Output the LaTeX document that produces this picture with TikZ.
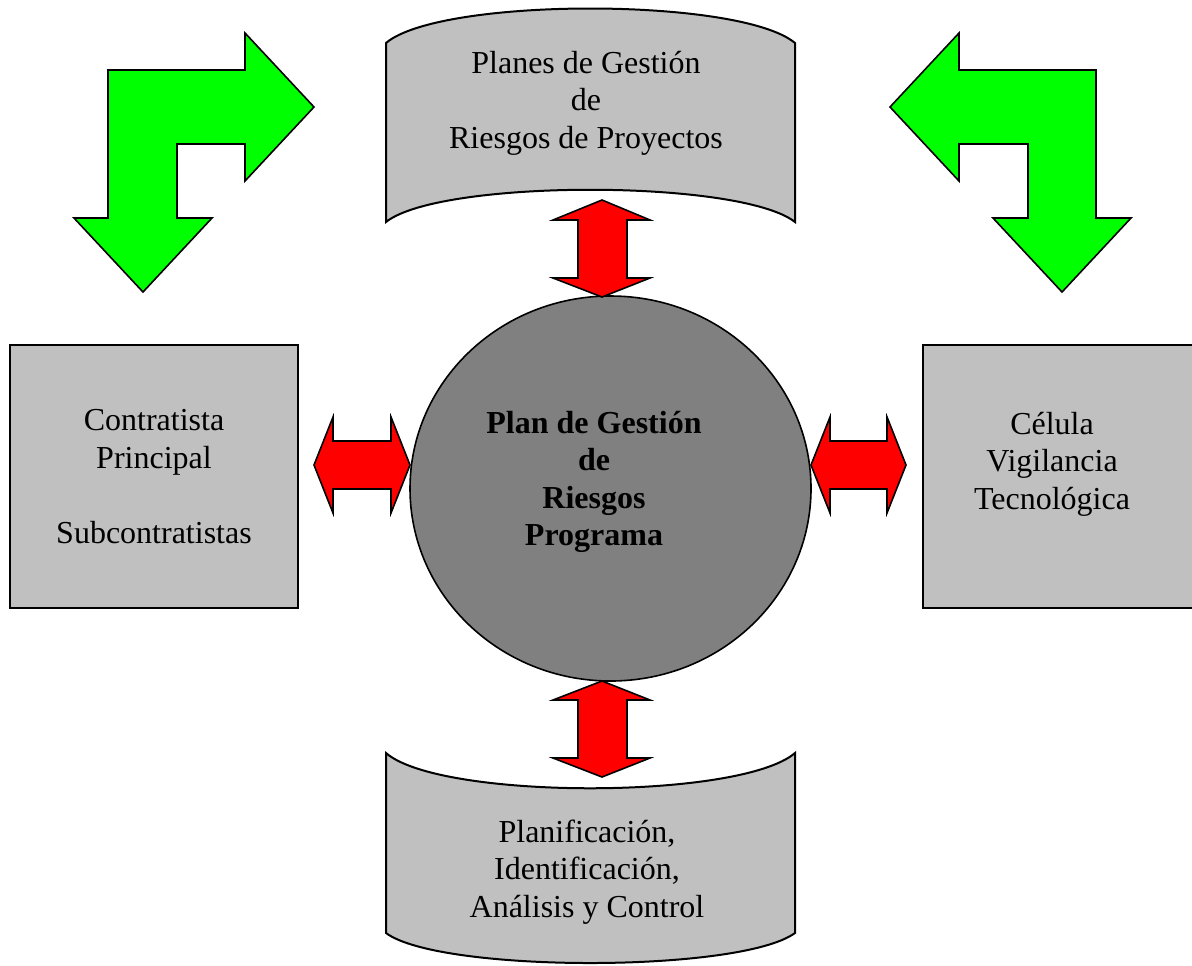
\documentclass[tikz,border=0pt]{standalone}
\usepackage{fontspec}
\setmainfont{Liberation Serif}
\usepackage{tikz}
\usetikzlibrary{positioning,shapes.geometric}
\definecolor{grisclaro}{HTML}{C0C0C0}
\definecolor{grisoscuro}{HTML}{808080}
\definecolor{verde}{HTML}{00FF00}
\definecolor{rojo}{HTML}{FF0000}
\tikzset{caja/.style={draw=black,fill=grisclaro,line width=1pt,rectangle,inner sep=0pt},
  texto/.style={align=center,inner sep=0pt,font=\fontsize{16}{18.7}\selectfont},
  flechaverde/.style={draw=black,fill=verde,line width=0.8pt,line join=miter},
  flecharoja/.style={draw=black,fill=rojo,line width=0.8pt,line join=miter}}

\begin{document}
\begin{tikzpicture}[x=0.5pt, y=-0.5pt]
        \useasboundingbox (0,0) rectangle (1192,965);
        \clip (0,0) rectangle (1192,965);
        % bandas superior e inferior
        \draw[caja] (386,43) .. controls (440,-3) and (740,-3) .. (795,43) -- (795,222)
            .. controls (740,179) and (440,179) .. (386,222) -- cycle;
        \draw[caja] (386,753) .. controls (440,800) and (740,800) .. (795,753) -- (795,933)
            .. controls (740,973) and (440,973) .. (386,933) -- cycle;
        \node[texto] (planes) at (586,103) {Planes de Gestión\\de\\Riesgos de Proyectos};
        \node[texto] (planif) at (587,872) {Planificación,\\Identificación,\\Análisis y Control};
        % cajas laterales
        \node[caja,minimum width=144pt,minimum height=131.5pt,texto] (contratista) at (154,476.5)
            {Contratista\\Principal\\\mbox{}\\Subcontratistas};
        \node[caja,minimum width=150pt,minimum height=131.5pt,anchor=west] (celulaCaja) at (922,476.5) {};
        \node[texto] (celula) at (1052,464) {Célula\\Vigilancia\\Tecnológica};
        % circulo central
        \node[ellipse,draw=black,fill=grisoscuro,line width=0.8pt,minimum width=200.5pt,
            minimum height=192.5pt,inner sep=0pt] (programa) at (610.5,488.5) {};
        \node[texto,font=\fontsize{16}{18.7}\selectfont\bfseries] (programaTxt) at (594,482)
            {Plan de Gestión\\de\\Riesgos\\Programa};
        % flechas rojas
        \filldraw[flecharoja] (602,200) -- (650,220) -- (627,220) -- (627,278) -- (650,278)
            -- (602,297) -- (553,278) -- (578,278) -- (578,220) -- (553,220) -- cycle;
        \filldraw[flecharoja] (602,681) -- (650,700) -- (627,700) -- (627,758) -- (650,758)
            -- (602,777) -- (553,758) -- (578,758) -- (578,700) -- (553,700) -- cycle;
        \filldraw[flecharoja] (314,465) -- (333,417) -- (333,441) -- (391,441) -- (391,417)
            -- (410,465) -- (391,513) -- (391,489) -- (333,489) -- (333,513) -- cycle;
        \filldraw[flecharoja] (811,465) -- (830,417) -- (830,441) -- (887,441) -- (887,417)
            -- (906,465) -- (887,513) -- (887,489) -- (830,489) -- (830,513) -- cycle;
        % flechas verdes
        \filldraw[flechaverde] (108,70) -- (245,70) -- (245,33) -- (314,107) -- (245,181)
            -- (245,144) -- (177,144) -- (177,218) -- (212,218) -- (143,292) -- (74,218)
            -- (108,218) -- cycle;
        \filldraw[flechaverde] (1096,70) -- (959,70) -- (959,33) -- (890,107) -- (959,181)
            -- (959,144) -- (1028,144) -- (1028,218) -- (993,218) -- (1062,292) -- (1131,218)
            -- (1096,218) -- cycle;
\end{tikzpicture}
\end{document}
